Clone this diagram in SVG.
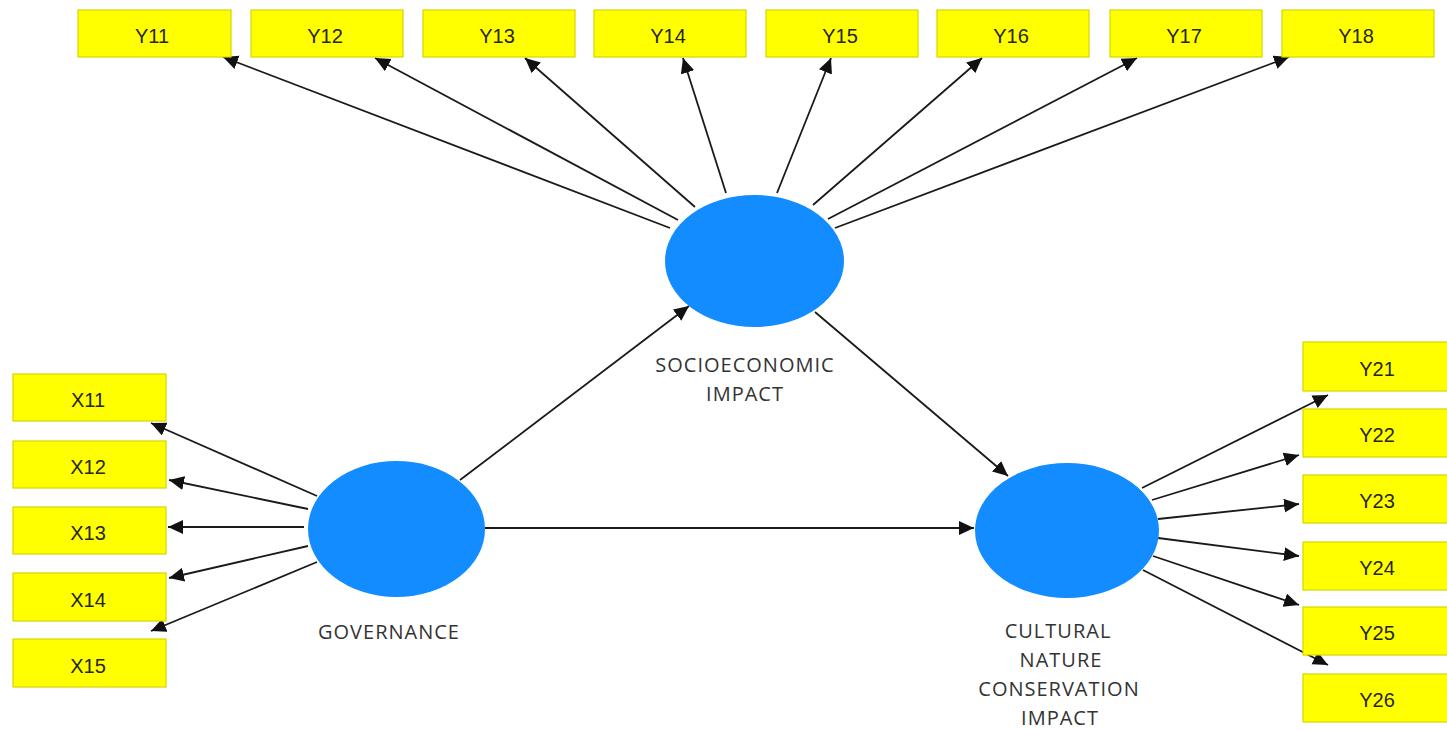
<svg xmlns="http://www.w3.org/2000/svg" width="1447" height="730" viewBox="0 0 1447 730">
<style>
.box{fill:#FFFF00;stroke:#D6D600;stroke-width:1.2}
.bt{font-family:"Liberation Sans",Arial,sans-serif;font-size:20px;fill:#26261a;text-anchor:middle}
.lv{fill:#128CFF}
.lt{font-family:"Open Sans","Noto Sans",sans-serif;font-size:20px;letter-spacing:1px;fill:#333;text-anchor:middle}
.c{stroke:#1a1a1a;stroke-width:1.8;fill:none;marker-end:url(#ah)}
</style>
<defs>
<marker id="ah" markerUnits="userSpaceOnUse" markerWidth="17" markerHeight="16" refX="15" refY="7" orient="auto">
<path d="M0,0 L15,7 L0,14 z" fill="#111"/>
</marker>
</defs>
<rect width="1447" height="730" fill="#fff"/>
<g id="connectors">
<line class="c" x1="670" y1="228" x2="223" y2="57"/>
<line class="c" x1="678" y1="220" x2="375" y2="58"/>
<line class="c" x1="695" y1="207" x2="525" y2="58"/>
<line class="c" x1="726" y1="193" x2="683" y2="58"/>
<line class="c" x1="777" y1="193" x2="831" y2="58"/>
<line class="c" x1="813" y1="205" x2="982" y2="58"/>
<line class="c" x1="828" y1="219" x2="1137" y2="58"/>
<line class="c" x1="835" y1="228" x2="1289" y2="57"/>
<line class="c" x1="317" y1="496" x2="151" y2="423"/>
<line class="c" x1="308" y1="509" x2="169" y2="480"/>
<line class="c" x1="304" y1="527" x2="168" y2="527"/>
<line class="c" x1="308" y1="546" x2="169" y2="578"/>
<line class="c" x1="317" y1="562" x2="151" y2="631"/>
<line class="c" x1="1142" y1="488" x2="1328" y2="395"/>
<line class="c" x1="1152" y1="500" x2="1299" y2="455"/>
<line class="c" x1="1158" y1="519" x2="1299" y2="504"/>
<line class="c" x1="1158" y1="538" x2="1299" y2="556"/>
<line class="c" x1="1153" y1="556" x2="1299" y2="605"/>
<line class="c" x1="1143" y1="570" x2="1328" y2="665"/>
<line class="c" x1="460" y1="480" x2="689" y2="306"/>
<line class="c" x1="815" y1="312" x2="1008" y2="476"/>
<line class="c" x1="485" y1="528" x2="974" y2="528"/>
</g>
<g id="socio"><ellipse class="lv" cx="754.5" cy="261" rx="89.5" ry="66"/><text class="lt" x="745" y="372">SOCIOECONOMIC</text><text class="lt" x="745" y="401">IMPACT</text></g>
<g id="gov"><ellipse class="lv" cx="396.5" cy="529" rx="88.5" ry="68"/><text class="lt" x="389" y="639">GOVERNANCE</text></g>
<g id="cult"><ellipse class="lv" cx="1067" cy="530.5" rx="92" ry="67.5"/><text class="lt" x="1058" y="638">CULTURAL</text><text class="lt" x="1061" y="667">NATURE</text><text class="lt" x="1059" y="696">CONSERVATION</text><text class="lt" x="1060" y="725">IMPACT</text></g>
<g id="Y11"><rect class="box" x="78" y="10" width="153" height="47"/><text class="bt" x="152" y="42.5">Y11</text></g>
<g id="Y12"><rect class="box" x="251" y="10" width="152" height="47"/><text class="bt" x="325" y="42.5">Y12</text></g>
<g id="Y13"><rect class="box" x="423" y="10" width="152" height="47"/><text class="bt" x="497" y="42.5">Y13</text></g>
<g id="Y14"><rect class="box" x="594" y="10" width="152" height="47"/><text class="bt" x="668" y="42.5">Y14</text></g>
<g id="Y15"><rect class="box" x="766" y="10" width="152" height="47"/><text class="bt" x="840" y="42.5">Y15</text></g>
<g id="Y16"><rect class="box" x="937" y="10" width="152" height="47"/><text class="bt" x="1011" y="42.5">Y16</text></g>
<g id="Y17"><rect class="box" x="1110" y="10" width="152" height="47"/><text class="bt" x="1184" y="42.5">Y17</text></g>
<g id="Y18"><rect class="box" x="1282" y="10" width="152" height="47"/><text class="bt" x="1356" y="42.5">Y18</text></g>
<g id="X11"><rect class="box" x="13" y="374" width="153" height="47"/><text class="bt" x="88" y="406.5">X11</text></g>
<g id="X12"><rect class="box" x="13" y="441" width="153" height="47"/><text class="bt" x="88" y="473.5">X12</text></g>
<g id="X13"><rect class="box" x="13" y="507" width="153" height="47"/><text class="bt" x="88" y="539.5">X13</text></g>
<g id="X14"><rect class="box" x="13" y="573" width="153" height="48"/><text class="bt" x="88" y="606.5">X14</text></g>
<g id="X15"><rect class="box" x="13" y="639" width="153" height="48"/><text class="bt" x="88" y="672.5">X15</text></g>
<g id="Y21"><rect class="box" x="1303" y="342" width="153" height="49"/><text class="bt" x="1377" y="375.5">Y21</text></g>
<g id="Y22"><rect class="box" x="1303" y="409" width="153" height="48"/><text class="bt" x="1377" y="441.5">Y22</text></g>
<g id="Y23"><rect class="box" x="1303" y="475" width="153" height="48"/><text class="bt" x="1377" y="507.5">Y23</text></g>
<g id="Y24"><rect class="box" x="1303" y="542" width="153" height="48"/><text class="bt" x="1377" y="574.5">Y24</text></g>
<g id="Y25"><rect class="box" x="1303" y="607" width="153" height="48"/><text class="bt" x="1377" y="639.5">Y25</text></g>
<g id="Y26"><rect class="box" x="1303" y="674" width="153" height="48"/><text class="bt" x="1377" y="706.5">Y26</text></g>
</svg>
